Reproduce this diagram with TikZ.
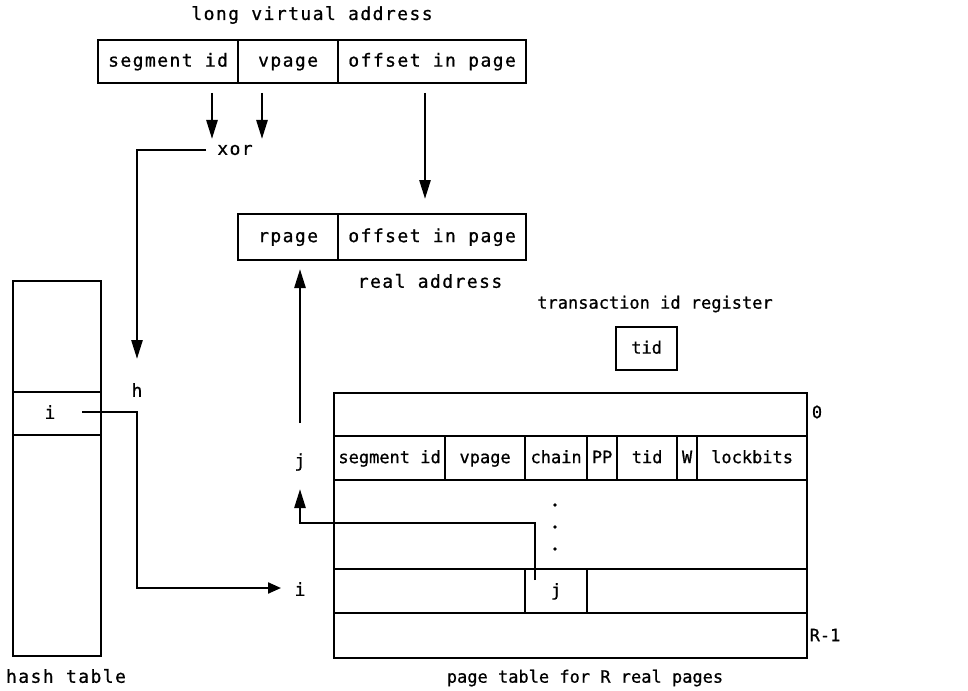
\documentclass[tikz,border=0pt]{standalone}
\usepackage{fontspec}
\setmainfont{DejaVu Sans Mono}[LetterSpace=8,FakeBold=0.8]
\newfontfamily\tightfont{DejaVu Sans Mono}[LetterSpace=0,FakeBold=0.8]
\usetikzlibrary{arrows.meta,calc}
\begin{document}
\begin{tikzpicture}[x=1pt,y=-1pt,
  font=\fontsize{18}{21}\selectfont,
  line width=2.2pt,
  cell/.style={draw, inner sep=0pt, anchor=north west, line width=2.2pt, text height=13pt, text depth=3pt},
  tcell/.style={cell, font=\fontsize{17}{20}\tightfont},
  lbl/.style={inner sep=1pt},
  tlbl/.style={lbl, font=\fontsize{17}{20}\tightfont},
  arr/.style={-{Triangle[length=19pt,width=11pt]}, line width=2.6pt},
  arrh/.style={-{Triangle[length=13pt,width=11pt]}, line width=2.2pt}]
\useasboundingbox (0,0) rectangle (968,690);

% long virtual address
\node[lbl] (tlva) at (312,15) {long virtual address};
\node[cell, minimum width=140pt, minimum height=43pt] (vseg) at (97,39) {segment id};
\node[cell, minimum width=100pt, minimum height=43pt] (vpg) at (237,39) {vpage};
\node[cell, minimum width=188pt, minimum height=43pt] (voff) at (337,39) {offset in page};

% xor
\node[lbl] (xor) at (235,150) {xor};
\coordinate (segA) at (212,93);
\coordinate (segB) at (212,139);
\coordinate (vpA) at (262,93);
\coordinate (vpB) at (262,139);
\draw[arr] (segA) -- (segB);
\draw[arr] (vpA) -- (vpB);
\coordinate (xorL) at (206,150);
\coordinate (hTop) at (137,359);
\draw[arr] (xorL) -| (hTop);

% real address
\node[cell, minimum width=100pt, minimum height=46pt] (rpg) at (237,213) {rpage};
\node[cell, minimum width=188pt, minimum height=46pt] (roff) at (337,213) {offset in page};
\node[lbl] (tra) at (430,281) {real address};
\coordinate (offA) at (425,93);
\coordinate (offB) at (425,199);
\draw[arr] (offA) -- (offB);

% hash table
\node[cell, minimum width=88pt, minimum height=111pt] (ht1) at (12,280) {};
\node[cell, minimum width=88pt, minimum height=43pt] (ht2) at (12,391) {};
\node[cell, minimum width=88pt, minimum height=221pt] (ht3) at (12,434) {};
\node[lbl] (hi) at (50,412) {i};
\node[lbl] (tht) at (66,676) {hash table};
\node[lbl] (h) at (137,390) {h};

% labels i and j
\node[lbl] (pi) at (300,589) {i};
\node[lbl] (pj) at (300,462) {j};
\coordinate (pjTop) at (300,423);
\coordinate (rpB) at (300,269);
\draw[arr] (pjTop) -- (rpB);

% transaction id register
\node[tlbl] (ttir) at (655,304) {transaction id register};
\node[tcell, minimum width=61pt, minimum height=43pt] (treg) at (615,326) {tid};

% page table
\node[tcell, minimum width=473pt, minimum height=43pt] (r0) at (333,392) {};
\node[tcell, minimum width=111pt, minimum height=44pt] (fseg) at (333,435) {segment id};
\node[tcell, minimum width=80pt, minimum height=44pt] (fvp) at (444,435) {vpage};
\node[tcell, minimum width=62pt, minimum height=44pt] (fch) at (524,435) {chain};
\node[tcell, minimum width=30pt, minimum height=44pt] (fpp) at (586,435) {PP};
\node[tcell, minimum width=60pt, minimum height=44pt] (ftid) at (616,435) {tid};
\node[tcell, minimum width=20pt, minimum height=44pt] (fw) at (676,435) {W};
\node[tcell, minimum width=110pt, minimum height=44pt] (flk) at (696,435) {lockbits};
\node[tcell, minimum width=473pt, minimum height=89pt] (rdots) at (333,479) {};
\node[tcell, minimum width=191pt, minimum height=44pt] (jl) at (333,568) {};
\node[tcell, minimum width=62pt, minimum height=44pt] (jc) at (524,568) {j};
\node[tcell, minimum width=220pt, minimum height=44pt] (jr) at (586,568) {};
\node[tcell, minimum width=473pt, minimum height=45pt] (rR) at (333,612) {};
\node[tlbl] (l0) at (817,412) {0};
\node[tlbl] (lR) at (825,635) {R-1};
\node[tlbl] (tpt) at (585,678) {page table for R real pages};
\foreach \yy in {505,527,549} \fill (555,\yy) circle (1.8pt);

% connectors
\coordinate (hiR) at (82,412);
\coordinate (piL) at (281,588);
\draw[arrh] (hiR) -- (137,412) |- (piL);
\coordinate (jcIn) at (535,580);
\coordinate (pjB) at (300,489);
\draw[arr] (jcIn) |- (300,523) -- (pjB);
\end{tikzpicture}
\end{document}
